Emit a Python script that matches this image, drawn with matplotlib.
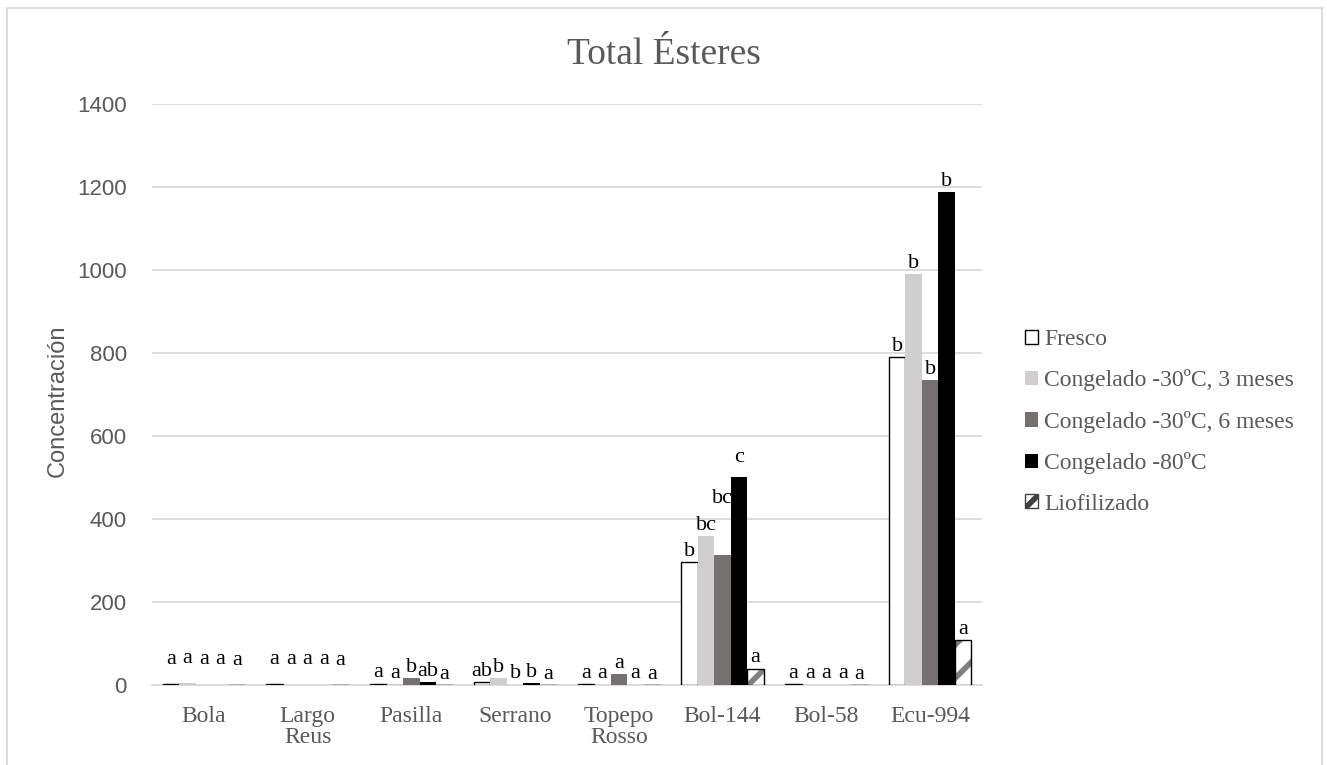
import numpy as np
import matplotlib.pyplot as plt
from matplotlib.patches import Rectangle, Patch

categorias = ["Bola", "Largo\nReus", "Pasilla", "Serrano", "Topepo\nRosso", "Bol-144", "Bol-58", "Ecu-994"]
series = ["Fresco", "Congelado -30ºC, 3 meses", "Congelado -30ºC, 6 meses", "Congelado -80ºC", "Liofilizado"]

fresco = [2, 2, 3, 6, 2, 296, 2, 790]
cong_3m = [5, 0.5, 2, 17, 1, 359, 0.5, 990]
cong_6m = [0.5, 0.5, 17, 1, 26, 313, 0.5, 735]
cong_80 = [0.5, 0.5, 7, 4, 1, 501, 0.5, 1188]
liofilizado = [0, 0, 0, 0, 0, 39, 0, 108]

letras_fresco = ["a", "a", "a", "ab", "a", "b", "a", "b"]
letras_3m = ["a", "a", "a", "b", "a", "bc", "a", "b"]
letras_6m = ["a", "a", "b", "b", "a", "bc", "a", "b"]
letras_80 = ["a", "a", "ab", "b", "a", "c", "a", "b"]
letras_lio = ["a", "a", "a", "a", "a", "a", "a", "a"]

valores = [fresco, cong_3m, cong_6m, cong_80, liofilizado]
letras = [letras_fresco, letras_3m, letras_6m, letras_80, letras_lio]

gris = "#595959"
colores = ["white", "#d0cece", "#767171", "black", "white"]
plt.rcParams["hatch.linewidth"] = 4

fig = plt.figure(figsize=(13.27, 7.65), dpi=100)
ax = fig.add_axes([0.1145, 0.1046, 0.6255, 0.7595])

x = np.arange(len(categorias))
ancho = 0.159
for i, (vals, col) in enumerate(zip(valores, colores)):
    pos = x + (i - 2) * ancho
    if i == 0:
        ax.bar(pos, vals, ancho, color=col, edgecolor="black", linewidth=1, zorder=3)
    elif i == 4:
        ax.bar(pos, vals, ancho, color="white", edgecolor="#7f7f7f", hatch="/", linewidth=0, zorder=3)
        ax.bar(pos, vals, ancho, fill=False, edgecolor="black", linewidth=1, zorder=4)
    else:
        ax.bar(pos, vals, ancho, color=col, linewidth=0, zorder=3)
    for j, v in enumerate(vals):
        extra = 0
        if j < 2:
            extra = 10
        if i == 2 and j == 5:
            extra = 33
        if i == 3 and j == 5:
            extra = 6
        ax.annotate(letras[i][j], (pos[j], v), xytext=(0, 1 + extra), textcoords="offset points",
                    ha="center", va="bottom", fontsize=16, family="Liberation Serif", color="black")

handles = [Patch(facecolor="white", edgecolor="black", linewidth=1),
           Patch(facecolor=colores[1], linewidth=0),
           Patch(facecolor=colores[2], linewidth=0),
           Patch(facecolor="black", linewidth=0),
           Patch(facecolor="white", edgecolor="#404040", hatch="//", linewidth=1)]
leg = ax.legend(handles, series, loc="center left", bbox_to_anchor=(1.052, 0.453), frameon=False,
                prop={"family": "Liberation Serif", "size": 17}, labelcolor=gris,
                borderpad=0, borderaxespad=0,
                handlelength=0.55, handleheight=0.55, handletextpad=0.25, labelspacing=0.82)

ax.set_ylim(0, 1400)
ax.set_xlim(-0.5, len(categorias) - 0.5)
ax.set_yticks(np.arange(0, 1401, 200))
ax.set_xticks(x)
ax.set_xticklabels(categorias, family="Liberation Serif", fontsize=17, color=gris, linespacing=1.0)
ax.tick_params(axis="y", labelsize=16, labelcolor=gris, length=0, pad=18)
ax.tick_params(axis="x", length=0, pad=15)
for lab in ax.get_yticklabels():
    lab.set_family("Liberation Sans")
ax.grid(axis="y", color="#d9d9d9", linewidth=1.3, zorder=0)
for s in ["top", "right", "left"]:
    ax.spines[s].set_visible(False)
ax.spines["bottom"].set_color("#d9d9d9")
ax.spines["bottom"].set_linewidth(1.3)
ax.set_ylabel("Concentración", family="Liberation Sans", fontsize=17, color=gris)
ax.yaxis.set_label_coords(-0.1, 0.49)

fig.text(0.5, 0.928, "Total Ésteres", ha="center", va="center", family="Liberation Serif",
         fontsize=27, color=gris)

fig.patches.append(Rectangle((0.005, -0.05), 0.991, 1.04, transform=fig.transFigure,
                             fill=False, edgecolor="#d9d9d9", linewidth=1.3))

fig.savefig("out.png", dpi=100)
